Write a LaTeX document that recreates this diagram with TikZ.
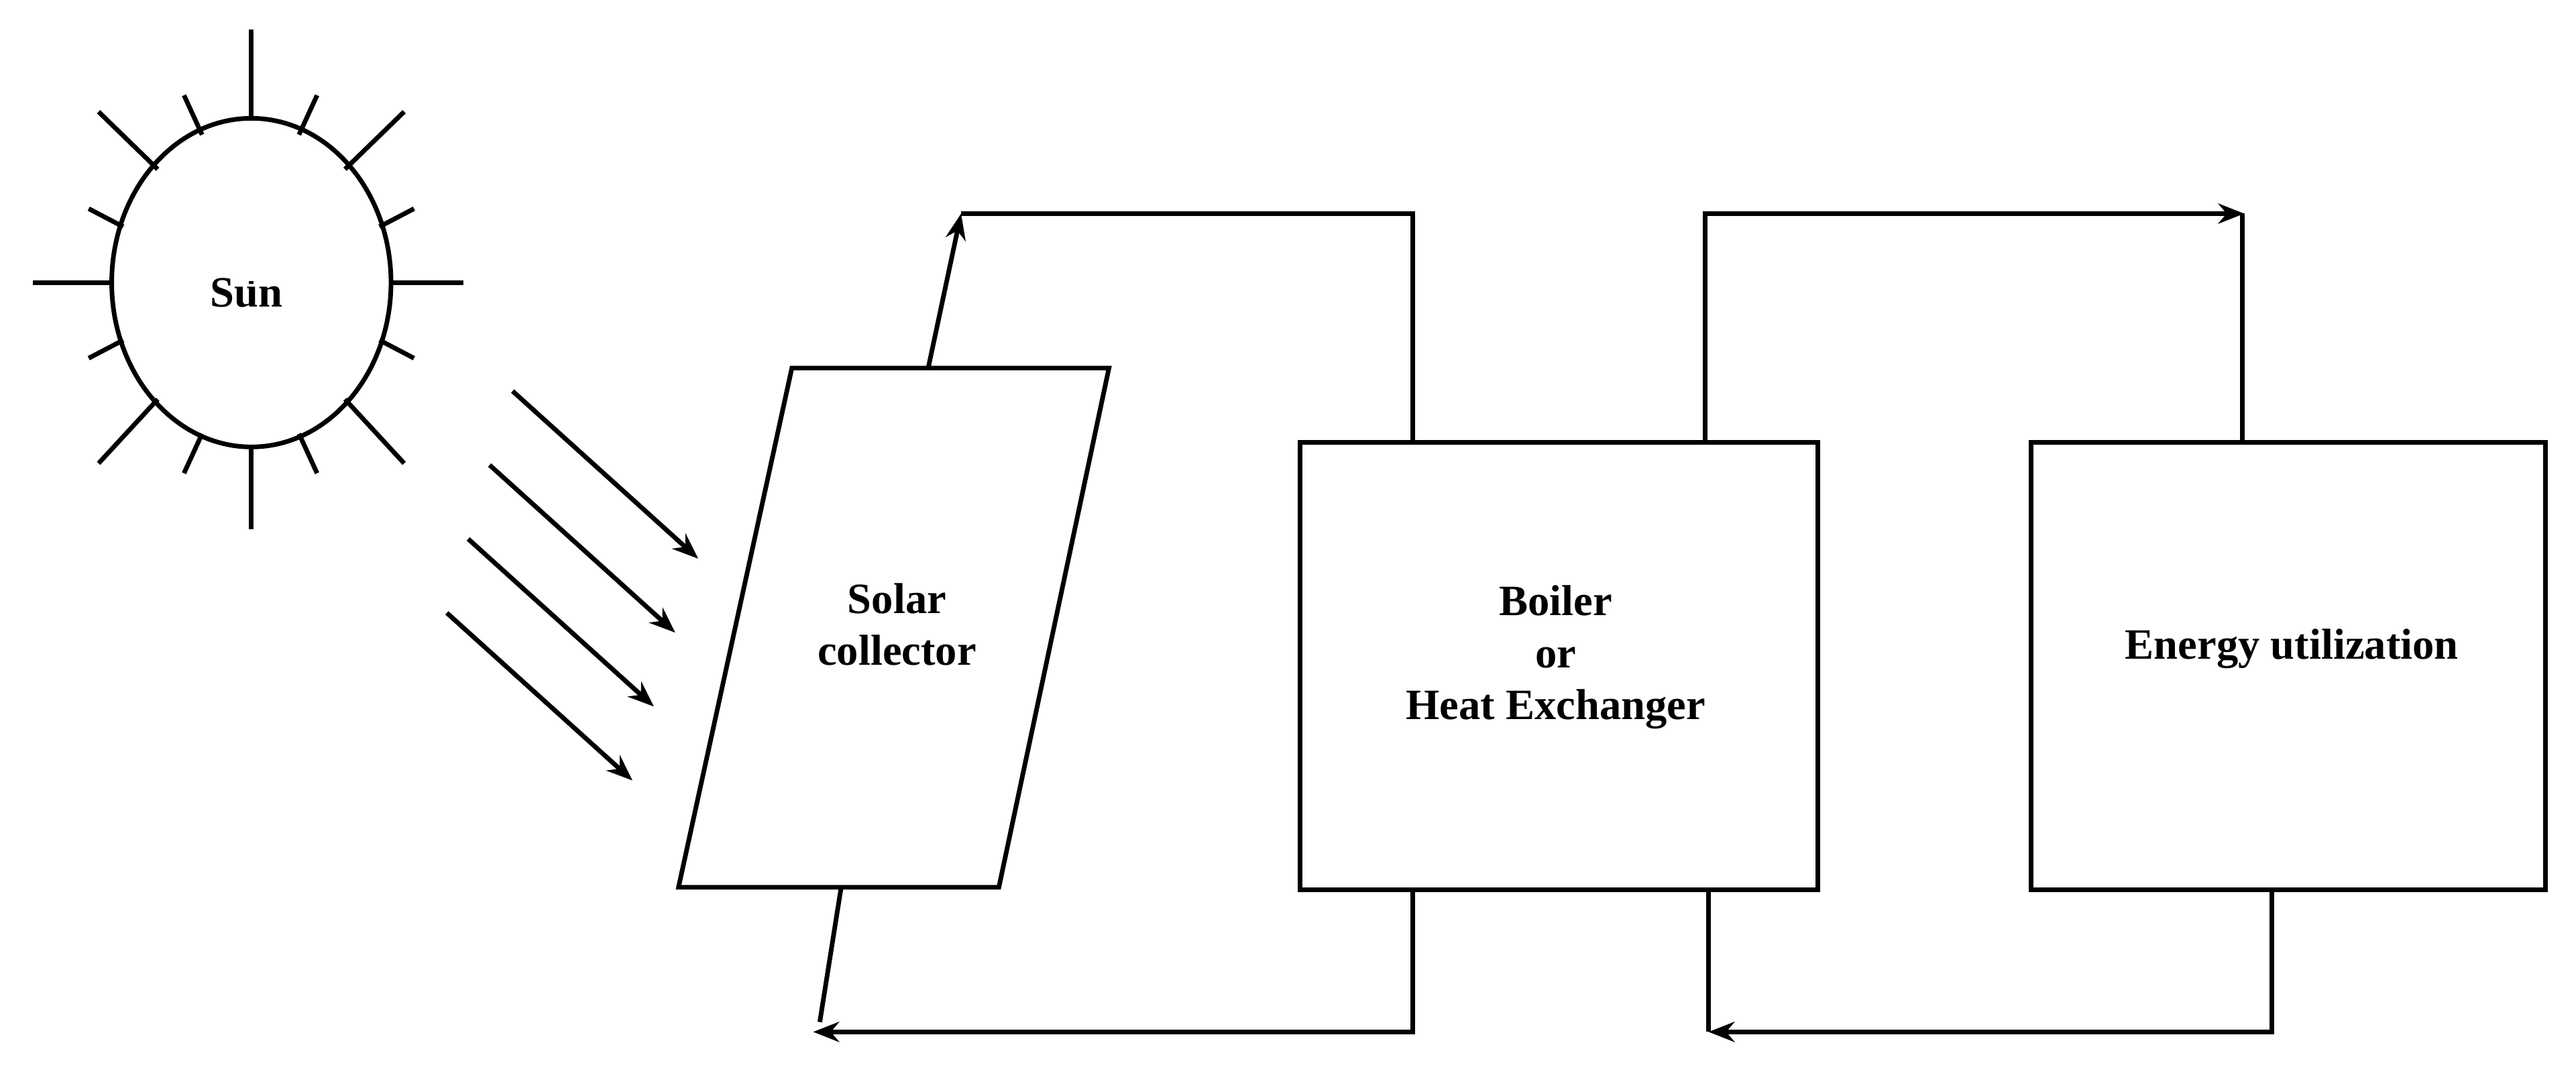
\documentclass[tikz,border=0pt]{standalone}
\usepackage{fontspec}
\setmainfont{Liberation Serif}
\usetikzlibrary{arrows.meta,shapes.geometric}
\begin{document}
\begin{tikzpicture}[x=0.02cm,y=-0.02cm,line width=1.6pt,
  lbl/.style={font=\fontsize{15}{18}\selectfont\bfseries,align=center},
  box/.style={draw,rectangle,anchor=north west},
  arr/.style={-{Stealth[length=9pt,width=7pt]}}]
\useasboundingbox (0,0) rectangle (1568,662);
% sun
\node[draw,ellipse,minimum width=170\pgflinewidth/1.6*0.0, inner sep=0pt] (sunshape) at (153,172) {};
\draw (153,172) ellipse [x radius=85, y radius=100];
\node[lbl] (sun) at (150,178) {Sun};
\foreach \a/\b/\c/\d in {153/18/153/72, 153/272/153/322, 20/172/68/172, 238/172/282/172,
  60/68/96/103, 246/68/210/103, 60/282/96/243, 246/282/210/243,
  112/58/123/82, 193/58/182/82, 112/288/123/264, 193/288/182/264,
  54/127/75/138, 252/127/231/138, 54/218/75/207, 252/218/231/207}
  \draw (\a,\b) -- (\c,\d);
% rays
\coordinate (r1s) at (312,238); \coordinate (r1e) at (425,340);
\coordinate (r2s) at (298,283); \coordinate (r2e) at (411,385);
\coordinate (r3s) at (285,328); \coordinate (r3e) at (398,430);
\coordinate (r4s) at (272,373); \coordinate (r4e) at (385,475);
\foreach \i in {1,2,3,4} \draw[arr] (r\i s) -- (r\i e);
% collector
\coordinate (c1) at (413,540); \coordinate (c2) at (608,540);
\coordinate (c3) at (675,224); \coordinate (c4) at (482,224);
\draw (c1) -- (c2) -- (c3) -- (c4) -- cycle;
\node[lbl] (col) at (546,380) {Solar\\collector};
% boxes
\node[box,minimum width=315*0.02cm,minimum height=272*0.02cm] (boiler) at (790,268) {};
\node[lbl] at (947,400) {Boiler\\or\\Heat Exchanger};
\node[box,minimum width=313*0.02cm,minimum height=272*0.02cm] (energy) at (1235,268) {};
\node[lbl] at (1395,395) {Energy utilization};
% connectors
\coordinate (ct) at (565,224); \coordinate (ctt) at (585,130);
\draw[arr] (ct) -- (ctt);
\draw (ctt) -- (860,130) -- (boiler.north west -| 860,0);
\coordinate (bt) at (1038,268);
\draw[arr] (bt) -- (1038,130) -- (1366,130);
\draw (1365,130) -- (1365,268);
\coordinate (bb) at (860,540); \coordinate (cb) at (495,628);
\draw[arr] (bb) -- (860,628) -- (cb);
\draw (512,540) -- (499,622);
\coordinate (eb) at (1383,540); \coordinate (bb2) at (1040,628);
\draw[arr] (eb) -- (1383,628) -- (bb2);
\draw (1040,540) -- (1040,628);
\end{tikzpicture}
\end{document}
